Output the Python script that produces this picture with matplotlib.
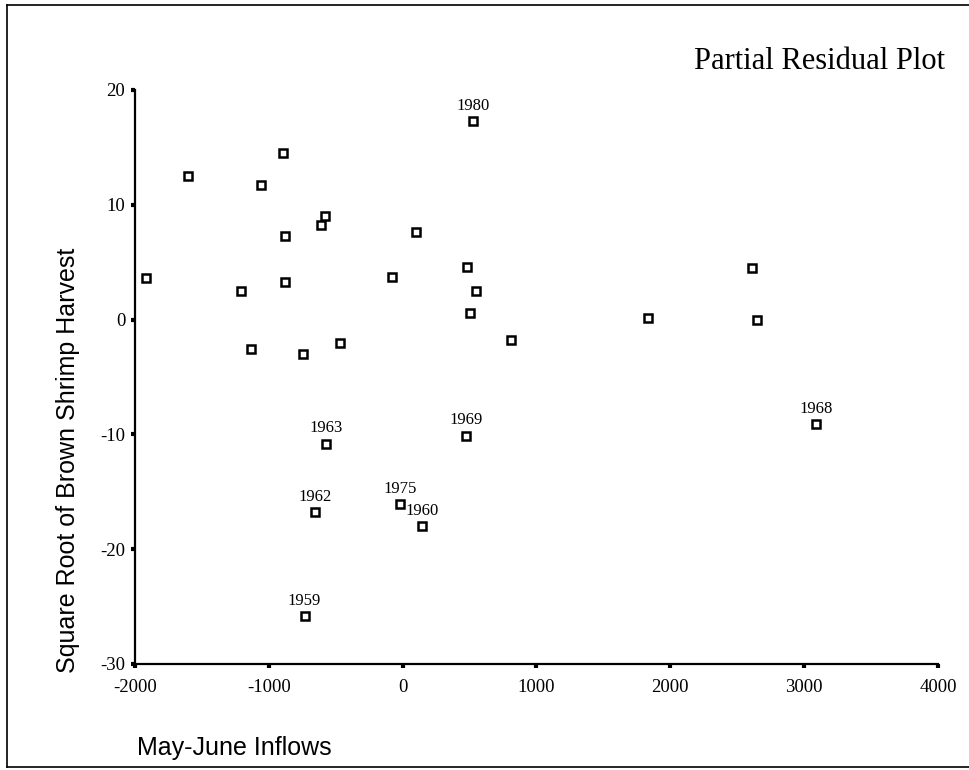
import matplotlib
matplotlib.use("Agg")
import matplotlib.pyplot as plt
from matplotlib.lines import Line2D

# May-June inflow (x) and partial residual (y); only a few years are labelled
inflow = [-1917, -1605, -895, -1055, -581, -608, -880, 102, 484, -80,
          -880, -1207, 546, 506, -1132, -746, -469, 808, 1835, 2608, 2645,
          526, -573, 474, -653, -22, 147, -733, 3090]
residual = [3.6, 12.5, 14.5, 11.7, 9.0, 8.2, 7.3, 7.6, 4.6, 3.7,
            3.3, 2.5, 2.5, 0.6, -2.6, -3.0, -2.0, -1.8, 0.1, 4.5, 0.0,
            17.3, -10.8, -10.1, -16.8, -16.1, -18.0, -25.8, -9.1]
year_labels = [""] * 21 + ["1980", "1963", "1969", "1962", "1975", "1960", "1959", "1968"]

x_ticks = [-2000, -1000, 0, 1000, 2000, 3000, 4000]
y_ticks = [-30, -20, -10, 0, 10, 20]

SERIF = "Liberation Serif"
SANS = "Liberation Sans"

fig = plt.figure(figsize=(9.7, 7.7), dpi=100)
ax = fig.add_axes([135 / 970, 1 - 664 / 770, (938 - 135) / 970, (664 - 90) / 770])

ax.plot(inflow, residual, linestyle="none", marker="s", markersize=5.5,
        markerfacecolor="white", markeredgecolor="black", markeredgewidth=1.8)

for x, y, lab in zip(inflow, residual, year_labels):
    if lab:
        ax.annotate(lab, (x, y), xytext=(0, 8), textcoords="offset points",
                    ha="center", va="baseline", fontsize=12, family=SERIF)

ax.set_xlim(-2000, 4000)
ax.set_ylim(-30, 20)
ax.set_xticks(x_ticks)
ax.set_yticks(y_ticks)
ax.set_xticklabels([str(t) for t in x_ticks], family=SERIF, fontsize=13.5)
ax.set_yticklabels([str(t) for t in y_ticks], family=SERIF, fontsize=13.5)
ax.tick_params(direction="out", length=3, width=3)
ax.tick_params(axis="x", pad=8)
ax.tick_params(axis="y", pad=4)

for side in ["top", "right"]:
    ax.spines[side].set_visible(False)
for side in ["left", "bottom"]:
    ax.spines[side].set_linewidth(1.6)

fig.text(68 / 970, 1 - 460 / 770, "Square Root of Brown Shrimp Harvest",
         rotation=90, ha="center", va="center", family=SANS, fontsize=18)
fig.text(137 / 970, 1 - 755 / 770, "May-June Inflows",
         ha="left", va="baseline", family=SANS, fontsize=18)
fig.text(945 / 970, 1 - 69 / 770, "Partial Residual Plot",
         ha="right", va="baseline", family=SERIF, fontsize=22)

# frame round the whole figure
lx, ty, by = 7 / 970, 1 - 5 / 770, 1 - 767 / 770
for xs, ys in [([lx, lx], [by, ty]), ([lx, 1], [ty, ty]), ([lx, 1], [by, by])]:
    fig.add_artist(Line2D(xs, ys, transform=fig.transFigure, color="black", linewidth=1.2))

fig.savefig("out.png", dpi=100)
